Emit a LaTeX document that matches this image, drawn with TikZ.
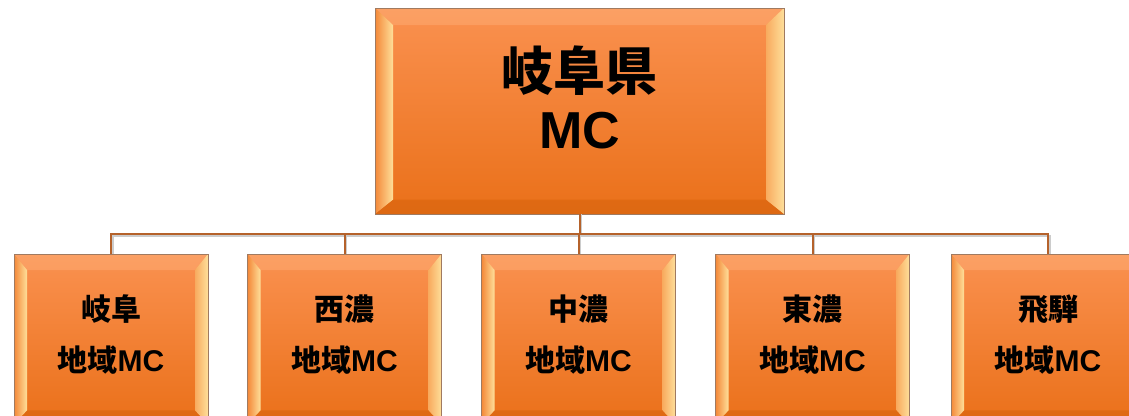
\documentclass[tikz,border=0pt]{standalone}
\usepackage{fontspec}
\setmainfont{Noto Sans CJK JP}
\newfontfamily\lat{Liberation Sans}
\usetikzlibrary{calc}
\definecolor{orTop}{HTML}{FA9150}
\definecolor{orMid}{HTML}{F8832E}
\definecolor{orBot}{HTML}{EA7019}
\definecolor{bevY}{HTML}{FEDF9A}
\definecolor{bevO}{HTML}{F48838}
\definecolor{bevTop}{HTML}{FBA064}
\definecolor{bevBot}{HTML}{DD6812}
\definecolor{edge}{HTML}{A07A60}
\definecolor{conn}{HTML}{B5622B}
\tikzset{
  bevbox/.style n args={4}{rectangle, inner sep=0pt, draw=edge, line width=0.8pt,
    top color=orTop, middle color=orMid, bottom color=orBot, minimum width=#1, minimum height=#2,
    path picture={
      \coordinate (pA) at (path picture bounding box.north west);
      \coordinate (pB) at (path picture bounding box.north east);
      \coordinate (pC) at (path picture bounding box.south east);
      \coordinate (pD) at (path picture bounding box.south west);
      \coordinate (qa) at ($(pA)+(#3,-#4)$);
      \coordinate (qb) at ($(pB)+(-#3,-#4)$);
      \coordinate (qc) at ($(pC)+(-#3,#4*0.85)$);
      \coordinate (qd) at ($(pD)+(#3,#4*0.85)$);
      \path[top color=bevTop, bottom color=bevTop!80!orTop] (pA) -- (pB) -- (qb) -- (qa) -- cycle;
      \path[top color=bevBot!80!orBot, bottom color=bevBot] (pD) -- (pC) -- (qc) -- (qd) -- cycle;
      \path[left color=bevO, right color=bevY] (pA) -- (qa) -- (qd) -- (pD) -- cycle;
      \path[left color=bevO!60!bevY, right color=bevY] (pB) -- (qb) -- (qc) -- (pC) -- cycle;
    }},
  toptext/.style={inner sep=0pt, font=\fontsize{52}{60}\selectfont\bfseries},
  subtext/.style={inner sep=0pt, font=\fontsize{30}{36}\selectfont\bfseries},
  link/.style={draw=conn, line width=2pt},
  linkshadow/.style={draw=black!20, line width=2pt}
}
\begin{document}
\begin{tikzpicture}[x=1pt,y=-1pt]
\useasboundingbox (0,0) rectangle (1129,415);
\clip (0,0) rectangle (1129,415);
% boxes
\node[bevbox={409pt}{206pt}{18pt}{17pt}] (top) at (579.5,111) {};
\node[bevbox={194pt}{170pt}{13pt}{16pt}] (b1) at (111,339) {};
\node[bevbox={194pt}{170pt}{13pt}{16pt}] (b2) at (344.5,339) {};
\node[bevbox={194pt}{170pt}{13pt}{16pt}] (b3) at (578.5,339) {};
\node[bevbox={194pt}{170pt}{13pt}{16pt}] (b4) at (812.5,339) {};
\node[bevbox={194pt}{170pt}{13pt}{16pt}] (b5) at (1048,339) {};
% connectors
\coordinate (j) at (579.5,234);
\coordinate (js) at (581,236);
\draw[linkshadow] ([xshift=1.5pt]top.south) -- (js);
\foreach \b in {b1,b2,b3,b4,b5} \draw[linkshadow] (js) -| ([xshift=1.5pt]\b.north);
\draw[link] (top.south) -- (j);
\foreach \b in {b1,b2,b3,b4,b5} \draw[link] (j) -| (\b.north);
% texts
\node[toptext] (t1) at (579.5,71) {岐阜県};
\node[toptext] (t2) at (579.5,131) {\lat MC};
\node[subtext] (s1a) at (111,309) {岐阜};
\node[subtext] (s1b) at (111,360) {地域{\lat MC}};
\node[subtext] (s2a) at (344.5,309) {西濃};
\node[subtext] (s2b) at (344.5,360) {地域{\lat MC}};
\node[subtext] (s3a) at (578.5,309) {中濃};
\node[subtext] (s3b) at (578.5,360) {地域{\lat MC}};
\node[subtext] (s4a) at (812.5,309) {東濃};
\node[subtext] (s4b) at (812.5,360) {地域{\lat MC}};
\node[subtext] (s5a) at (1048,309) {飛騨};
\node[subtext] (s5b) at (1048,360) {地域{\lat MC}};
\end{tikzpicture}
\end{document}
